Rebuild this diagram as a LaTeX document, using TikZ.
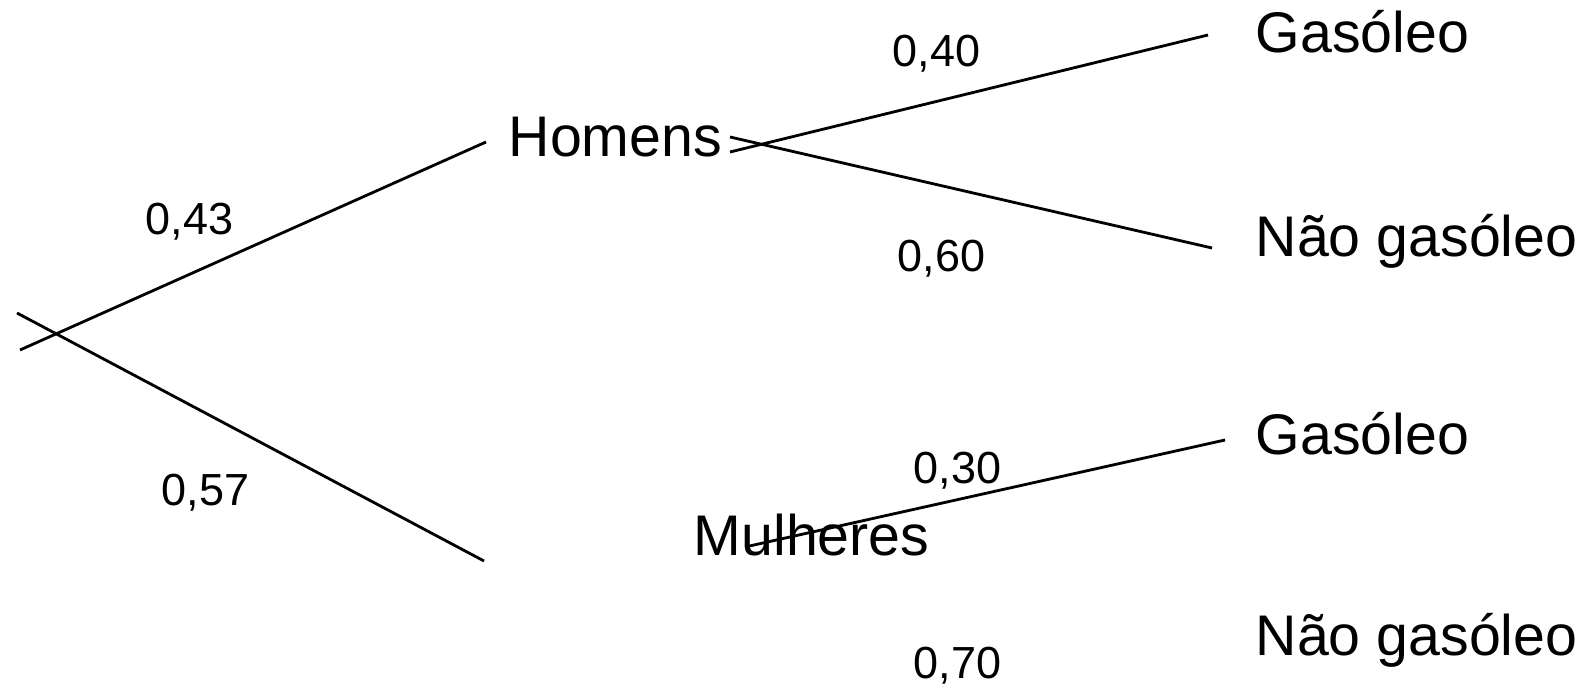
\documentclass[tikz,border=0pt]{standalone}
\usepackage{fontspec}
\setmainfont{Liberation Sans}
\usepackage{tikz}
\usetikzlibrary{positioning}

\begin{document}
\begin{tikzpicture}[every node/.style={inner sep=0pt, anchor=base west}]
    \useasboundingbox (0, 0) rectangle (15.8, 6.87);

    % Styles
    \tikzset{
        event/.style={font=\fontsize{16.3pt}{18pt}\selectfont},
        prob/.style={font=\fontsize{12.8pt}{14pt}\selectfont},
        branch/.style={line width=0.8pt, black}
    }

    % Events, first stage
    \node[event] (homens) at (5.08, 5.30) {Homens};
    \node[event] (mulheres) at (6.93, 1.32) {Mulheres};

    % Events, second stage
    \node[event] (gas1) at (12.55, 6.34) {Gasóleo};
    \node[event] (ngas1) at (12.55, 4.30) {Não gasóleo};
    \node[event] (gas2) at (12.55, 2.32) {Gasóleo};
    \node[event] (ngas2) at (12.55, 0.32) {Não gasóleo};

    % Probabilities
    \node[prob] (p43) at (1.45, 4.52) {0,43};
    \node[prob] (p57) at (1.61, 1.82) {0,57};
    \node[prob] (p40) at (8.92, 6.20) {0,40};
    \node[prob] (p60) at (8.97, 4.15) {0,60};
    \node[prob] (p30) at (9.13, 2.04) {0,30};
    \node[prob] (p70) at (9.13, 0.09) {0,70};

    % Branch ends
    \coordinate (rootA) at (0.20, 3.37);
    \coordinate (rootB) at (0.17, 3.74);
    \coordinate (homIn) at (4.86, 5.45);
    \coordinate (mulIn) at (4.84, 1.26);
    \coordinate (homOutA) at (7.30, 5.35);
    \coordinate (homOutB) at (7.30, 5.50);
    \coordinate (mulOut) at (7.45, 1.40);
    \coordinate (gas1In) at (12.08, 6.52);
    \coordinate (ngas1In) at (12.12, 4.39);
    \coordinate (gas2In) at (12.25, 2.47);

    % Branches
    \draw[branch] (rootA) -- (homIn);
    \draw[branch] (rootB) -- (mulIn);
    \draw[branch] (homOutA) -- (gas1In);
    \draw[branch] (homOutB) -- (ngas1In);
    \draw[branch] (mulOut) -- (gas2In);

\end{tikzpicture}
\end{document}
